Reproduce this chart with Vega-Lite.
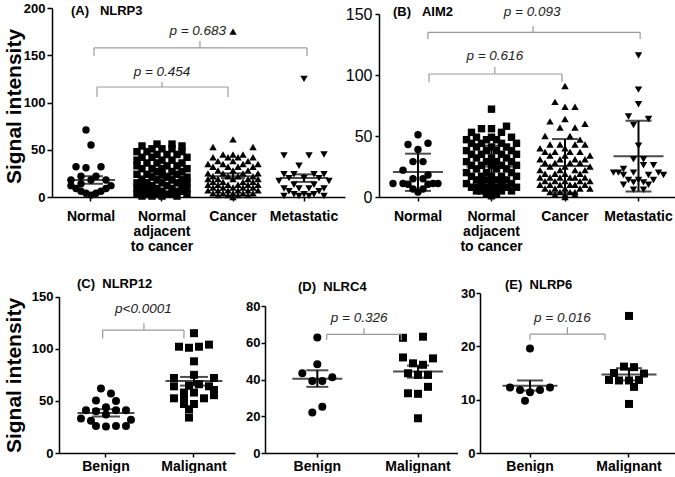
{
"$schema": "https://vega.github.io/schema/vega-lite/v6.json",
"background": "white",
"padding": {"left": 3, "top": 2, "right": 0, "bottom": 0},
"config": {
  "view": {"stroke": null},
  "font": "Liberation Sans",
  "axis": {"domainColor": "#000", "tickColor": "#000", "labelColor": "#000", "titleColor": "#000", "domainWidth": 1.5, "tickWidth": 1.5, "grid": false, "labelFont": "Liberation Sans", "titleFont": "Liberation Sans"}
},
"spacing": 17,
"vconcat": [
{"spacing": 0, "hconcat": [
{
 "width": 293, "height": 189,
 "title": {"text": "(A)\u00a0\u00a0\u00a0NLRP3", "anchor": "start", "frame": "group", "offset": -26, "dx": 19, "fontSize": 13, "fontWeight": "bold", "font": "Liberation Sans", "color": "#000", "baseline": "alphabetic"},
 "layer": [
  {"data": {"values": [
   {"g":"Normal","v":71,"s":-1},{"g":"Normal","v":55,"s":0},{"g":"Normal","v":32,"s":-3},{"g":"Normal","v":31,"s":-1},{"g":"Normal","v":32,"s":2},{"g":"Normal","v":22,"s":-2},{"g":"Normal","v":22,"s":1},{"g":"Normal","v":18,"s":-4},{"g":"Normal","v":18,"s":0},{"g":"Normal","v":18,"s":3},{"g":"Normal","v":12,"s":-4},{"g":"Normal","v":12,"s":4},{"g":"Normal","v":9,"s":-3},{"g":"Normal","v":9,"s":3},{"g":"Normal","v":6,"s":-2},{"g":"Normal","v":6,"s":2},{"g":"Normal","v":4,"s":-1},{"g":"Normal","v":4,"s":1},{"g":"Normal","v":2,"s":0},{"g":"Normal","v":14,"s":-2},
   {"g":"Normal adjacent to cancer","v":56,"s":-1},{"g":"Normal adjacent to cancer","v":56,"s":2},{"g":"Normal adjacent to cancer","v":54,"s":-4},{"g":"Normal adjacent to cancer","v":54,"s":4},{"g":"Normal adjacent to cancer","v":51,"s":-2},{"g":"Normal adjacent to cancer","v":51,"s":0},{"g":"Normal adjacent to cancer","v":51,"s":2},{"g":"Normal adjacent to cancer","v":48,"s":-5},{"g":"Normal adjacent to cancer","v":48,"s":-3},{"g":"Normal adjacent to cancer","v":48,"s":4},{"g":"Normal adjacent to cancer","v":45,"s":-1},{"g":"Normal adjacent to cancer","v":45,"s":1},{"g":"Normal adjacent to cancer","v":45,"s":3},{"g":"Normal adjacent to cancer","v":42,"s":-4},{"g":"Normal adjacent to cancer","v":42,"s":-2},{"g":"Normal adjacent to cancer","v":42,"s":5},{"g":"Normal adjacent to cancer","v":39,"s":-5},{"g":"Normal adjacent to cancer","v":39,"s":0},{"g":"Normal adjacent to cancer","v":39,"s":2},{"g":"Normal adjacent to cancer","v":36,"s":-3},{"g":"Normal adjacent to cancer","v":36,"s":-1},{"g":"Normal adjacent to cancer","v":36,"s":4},{"g":"Normal adjacent to cancer","v":33,"s":-5},{"g":"Normal adjacent to cancer","v":33,"s":1},{"g":"Normal adjacent to cancer","v":33,"s":3},{"g":"Normal adjacent to cancer","v":30,"s":-4},{"g":"Normal adjacent to cancer","v":30,"s":-2},{"g":"Normal adjacent to cancer","v":30,"s":0},{"g":"Normal adjacent to cancer","v":30,"s":5},{"g":"Normal adjacent to cancer","v":27,"s":-1},{"g":"Normal adjacent to cancer","v":27,"s":2},{"g":"Normal adjacent to cancer","v":27,"s":4},{"g":"Normal adjacent to cancer","v":24,"s":-5},{"g":"Normal adjacent to cancer","v":24,"s":-3},{"g":"Normal adjacent to cancer","v":24,"s":0},{"g":"Normal adjacent to cancer","v":24,"s":3},{"g":"Normal adjacent to cancer","v":21,"s":-2},{"g":"Normal adjacent to cancer","v":21,"s":1},{"g":"Normal adjacent to cancer","v":21,"s":5},{"g":"Normal adjacent to cancer","v":18,"s":-4},{"g":"Normal adjacent to cancer","v":18,"s":-1},{"g":"Normal adjacent to cancer","v":18,"s":2},{"g":"Normal adjacent to cancer","v":18,"s":4},{"g":"Normal adjacent to cancer","v":15,"s":-5},{"g":"Normal adjacent to cancer","v":15,"s":-3},{"g":"Normal adjacent to cancer","v":15,"s":0},{"g":"Normal adjacent to cancer","v":15,"s":3},{"g":"Normal adjacent to cancer","v":15,"s":5},{"g":"Normal adjacent to cancer","v":12,"s":-4},{"g":"Normal adjacent to cancer","v":12,"s":-2},{"g":"Normal adjacent to cancer","v":12,"s":1},{"g":"Normal adjacent to cancer","v":12,"s":4},{"g":"Normal adjacent to cancer","v":9,"s":-5},{"g":"Normal adjacent to cancer","v":9,"s":-3},{"g":"Normal adjacent to cancer","v":9,"s":-1},{"g":"Normal adjacent to cancer","v":9,"s":2},{"g":"Normal adjacent to cancer","v":9,"s":5},{"g":"Normal adjacent to cancer","v":6,"s":-4},{"g":"Normal adjacent to cancer","v":6,"s":-2},{"g":"Normal adjacent to cancer","v":6,"s":0},{"g":"Normal adjacent to cancer","v":6,"s":3},{"g":"Normal adjacent to cancer","v":6,"s":4},{"g":"Normal adjacent to cancer","v":3,"s":-5},{"g":"Normal adjacent to cancer","v":3,"s":-3},{"g":"Normal adjacent to cancer","v":3,"s":-1},{"g":"Normal adjacent to cancer","v":3,"s":1},{"g":"Normal adjacent to cancer","v":3,"s":2},{"g":"Normal adjacent to cancer","v":3,"s":5},{"g":"Normal adjacent to cancer","v":1,"s":-4},{"g":"Normal adjacent to cancer","v":1,"s":-2},{"g":"Normal adjacent to cancer","v":1,"s":0},{"g":"Normal adjacent to cancer","v":1,"s":3},
   {"g":"Cancer","v":175,"s":0},{"g":"Cancer","v":61,"s":0},{"g":"Cancer","v":53,"s":-4},{"g":"Cancer","v":53,"s":4},{"g":"Cancer","v":45,"s":-2},{"g":"Cancer","v":45,"s":0},{"g":"Cancer","v":45,"s":2},{"g":"Cancer","v":42,"s":-4},{"g":"Cancer","v":42,"s":-1},{"g":"Cancer","v":42,"s":1},{"g":"Cancer","v":42,"s":4},{"g":"Cancer","v":38,"s":-3},{"g":"Cancer","v":38,"s":0},{"g":"Cancer","v":38,"s":3},{"g":"Cancer","v":35,"s":-5},{"g":"Cancer","v":35,"s":-2},{"g":"Cancer","v":35,"s":2},{"g":"Cancer","v":35,"s":5},{"g":"Cancer","v":32,"s":-4},{"g":"Cancer","v":32,"s":-1},{"g":"Cancer","v":32,"s":1},{"g":"Cancer","v":32,"s":4},{"g":"Cancer","v":28,"s":-3},{"g":"Cancer","v":28,"s":0},{"g":"Cancer","v":28,"s":3},{"g":"Cancer","v":25,"s":-5},{"g":"Cancer","v":25,"s":-2},{"g":"Cancer","v":25,"s":2},{"g":"Cancer","v":25,"s":5},{"g":"Cancer","v":22,"s":-4},{"g":"Cancer","v":22,"s":-1},{"g":"Cancer","v":22,"s":1},{"g":"Cancer","v":22,"s":4},{"g":"Cancer","v":19,"s":-5},{"g":"Cancer","v":19,"s":-3},{"g":"Cancer","v":19,"s":0},{"g":"Cancer","v":19,"s":3},{"g":"Cancer","v":19,"s":5},{"g":"Cancer","v":16,"s":-4},{"g":"Cancer","v":16,"s":-2},{"g":"Cancer","v":16,"s":2},{"g":"Cancer","v":16,"s":4},{"g":"Cancer","v":13,"s":-5},{"g":"Cancer","v":13,"s":-3},{"g":"Cancer","v":13,"s":-1},{"g":"Cancer","v":13,"s":1},{"g":"Cancer","v":13,"s":3},{"g":"Cancer","v":13,"s":5},{"g":"Cancer","v":10,"s":-4},{"g":"Cancer","v":10,"s":-2},{"g":"Cancer","v":10,"s":0},{"g":"Cancer","v":10,"s":2},{"g":"Cancer","v":10,"s":4},{"g":"Cancer","v":7,"s":-5},{"g":"Cancer","v":7,"s":-3},{"g":"Cancer","v":7,"s":-1},{"g":"Cancer","v":7,"s":1},{"g":"Cancer","v":7,"s":3},{"g":"Cancer","v":7,"s":5},{"g":"Cancer","v":4,"s":-4},{"g":"Cancer","v":4,"s":-2},{"g":"Cancer","v":4,"s":0},{"g":"Cancer","v":4,"s":2},{"g":"Cancer","v":4,"s":4},{"g":"Cancer","v":2,"s":-3},{"g":"Cancer","v":2,"s":-1},{"g":"Cancer","v":2,"s":1},{"g":"Cancer","v":2,"s":3},{"g":"Cancer","v":0,"s":0},
   {"g":"Metastatic","v":125,"s":0},{"g":"Metastatic","v":45,"s":4},{"g":"Metastatic","v":44,"s":-4},{"g":"Metastatic","v":44,"s":1},{"g":"Metastatic","v":33,"s":-1},{"g":"Metastatic","v":24,"s":-4},{"g":"Metastatic","v":24,"s":-2},{"g":"Metastatic","v":24,"s":2},{"g":"Metastatic","v":24,"s":4},{"g":"Metastatic","v":20,"s":-3},{"g":"Metastatic","v":20,"s":0},{"g":"Metastatic","v":20,"s":3},{"g":"Metastatic","v":17,"s":-5},{"g":"Metastatic","v":17,"s":5},{"g":"Metastatic","v":13,"s":-2},{"g":"Metastatic","v":13,"s":2},{"g":"Metastatic","v":9,"s":-4},{"g":"Metastatic","v":9,"s":-1},{"g":"Metastatic","v":9,"s":1},{"g":"Metastatic","v":9,"s":4},{"g":"Metastatic","v":6,"s":-3},{"g":"Metastatic","v":6,"s":3},{"g":"Metastatic","v":3,"s":-2},{"g":"Metastatic","v":3,"s":0},{"g":"Metastatic","v":3,"s":2},{"g":"Metastatic","v":1,"s":-4},{"g":"Metastatic","v":1,"s":-1},{"g":"Metastatic","v":1,"s":1},{"g":"Metastatic","v":1,"s":4}
  ]},
   "mark": {"type": "point", "filled": true, "size": 55, "color": "#000", "opacity": 1},
   "encoding": {
    "x": {"field": "g", "type": "nominal", "sort": null, "scale": {"domain": ["Normal", "Normal adjacent to cancer", "Cancer", "Metastatic"], "paddingInner": 0.2254, "paddingOuter": 0.176, "align": 0.46},
      "axis": {"title": null, "labelAngle": 0, "labelFontSize": 14, "labelFontWeight": "bold", "tickSize": 4, "labelPadding": 8, "labelLineHeight": 15, "labelBaseline": "top", "labelExpr": "datum.value == 'Normal adjacent to cancer' ? ['Normal', 'adjacent', 'to cancer'] : datum.label"}},
    "xOffset": {"field": "s", "type": "ordinal", "scale": {"domain": [-5,-4,-3,-2,-1,0,1,2,3,4,5]}},
    "y": {"field": "v", "type": "quantitative", "scale": {"domain": [0, 200], "range": [189, 0], "nice": false},
      "axis": {"title": "Signal intensity", "titleFontSize": 21, "titleFontWeight": "bold", "titleX": -28, "titleY": 98, "values": [0, 50, 100, 150, 200], "labelFontSize": 13, "labelFontWeight": "bold", "tickSize": 5, "labelPadding": 2}},
    "shape": {"field": "g", "type": "nominal", "scale": {"domain": ["Normal", "Normal adjacent to cancer", "Cancer", "Metastatic"], "range": ["circle", "square", "triangle-up", "triangle-down"]}, "legend": null}
   }},
  {"data": {"values": [{"g":"Normal","m":18,"lo":14,"hi":22},{"g":"Normal adjacent to cancer","m":22,"lo":20,"hi":25},{"g":"Cancer","m":22,"lo":20,"hi":25},{"g":"Metastatic","m":20,"lo":16,"hi":24}]},
   "layer": [
    {"mark": {"type": "tick", "color": "#000", "size": 48, "thickness": 2}, "encoding": {"x": {"field": "g", "type": "nominal"}, "y": {"field": "m", "type": "quantitative"}}},
    {"mark": {"type": "tick", "color": "#000", "size": 24, "thickness": 2}, "encoding": {"x": {"field": "g", "type": "nominal"}, "y": {"field": "lo", "type": "quantitative"}}},
    {"mark": {"type": "tick", "color": "#000", "size": 24, "thickness": 2}, "encoding": {"x": {"field": "g", "type": "nominal"}, "y": {"field": "hi", "type": "quantitative"}}},
    {"mark": {"type": "rule", "color": "#000", "strokeWidth": 2}, "encoding": {"x": {"field": "g", "type": "nominal"}, "y": {"field": "lo", "type": "quantitative"}, "y2": {"field": "hi"}}}
   ]},
  {"data": {"values": [{}]},
   "layer": [
    {"mark": {"type": "rule", "color": "#999", "strokeWidth": 1.2}, "encoding": {"x": {"datum": "Normal", "type": "nominal", "bandPosition": 0.609}, "x2": {"datum": "Cancer", "bandPosition": 0.409}, "y": {"datum": 116.4, "type": "quantitative"}}},
    {"mark": {"type": "rule", "color": "#999", "strokeWidth": 1.2}, "encoding": {"x": {"datum": "Normal", "type": "nominal", "bandPosition": 0.609}, "y": {"datum": 116.4, "type": "quantitative"}, "y2": {"datum": 105.8}}},
    {"mark": {"type": "rule", "color": "#999", "strokeWidth": 1.2}, "encoding": {"x": {"datum": "Cancer", "type": "nominal", "bandPosition": 0.409}, "y": {"datum": 116.4, "type": "quantitative"}, "y2": {"datum": 105.8}}},
    {"mark": {"type": "rule", "color": "#999", "strokeWidth": 1.2}, "encoding": {"x": {"datum": "Normal adjacent to cancer", "type": "nominal", "bandPosition": 0.5}, "y": {"datum": 116.4, "type": "quantitative"}, "y2": {"datum": 121.7}}},
    {"mark": {"type": "text", "fontStyle": "italic", "fontSize": 13.5, "color": "#222", "baseline": "middle"}, "encoding": {"x": {"datum": "Normal adjacent to cancer", "type": "nominal", "bandPosition": 0.5}, "y": {"datum": 132.3, "type": "quantitative"}, "text": {"value": "p = 0.454"}}},
    {"mark": {"type": "rule", "color": "#999", "strokeWidth": 1.2}, "encoding": {"x": {"datum": "Normal", "type": "nominal", "bandPosition": 0.555}, "x2": {"datum": "Metastatic", "bandPosition": 0.555}, "y": {"datum": 157.7, "type": "quantitative"}}},
    {"mark": {"type": "rule", "color": "#999", "strokeWidth": 1.2}, "encoding": {"x": {"datum": "Normal", "type": "nominal", "bandPosition": 0.555}, "y": {"datum": 157.7, "type": "quantitative"}, "y2": {"datum": 149.2}}},
    {"mark": {"type": "rule", "color": "#999", "strokeWidth": 1.2}, "encoding": {"x": {"datum": "Metastatic", "type": "nominal", "bandPosition": 0.555}, "y": {"datum": 157.7, "type": "quantitative"}, "y2": {"datum": 149.2}}},
    {"mark": {"type": "rule", "color": "#999", "strokeWidth": 1.2}, "encoding": {"x": {"datum": "Normal adjacent to cancer", "type": "nominal", "bandPosition": 1.19}, "y": {"datum": 157.7, "type": "quantitative"}, "y2": {"datum": 165}}},
    {"mark": {"type": "text", "fontStyle": "italic", "fontSize": 13.5, "color": "#222", "baseline": "middle"}, "encoding": {"x": {"datum": "Normal adjacent to cancer", "type": "nominal", "bandPosition": 1.15}, "y": {"datum": 175.7, "type": "quantitative"}, "text": {"value": "p = 0.683"}}}
   ]}
 ]
},
{
 "width": 296, "height": 189,
 "title": {"text": "(B)\u00a0\u00a0\u00a0AIM2", "anchor": "start", "frame": "group", "offset": -24.8, "dx": 14, "fontSize": 13, "fontWeight": "bold", "font": "Liberation Sans", "color": "#000", "baseline": "alphabetic"},
 "layer": [
  {"data": {"values": [
   {"g":"Normal","v":51,"s":0},{"g":"Normal","v":44,"s":2},{"g":"Normal","v":43,"s":-2},{"g":"Normal","v":39,"s":0},{"g":"Normal","v":29,"s":-1},{"g":"Normal","v":29,"s":1},{"g":"Normal","v":22,"s":-3},{"g":"Normal","v":18,"s":2},{"g":"Normal","v":15,"s":-1},{"g":"Normal","v":15,"s":1},{"g":"Normal","v":11,"s":-5},{"g":"Normal","v":11,"s":-3},{"g":"Normal","v":10.5,"s":-2},{"g":"Normal","v":10.5,"s":2},{"g":"Normal","v":11,"s":3},{"g":"Normal","v":11,"s":4},{"g":"Normal","v":6.5,"s":-1},{"g":"Normal","v":6.5,"s":1},{"g":"Normal","v":4,"s":0},
   {"g":"Normal adjacent to cancer","v":72,"s":0},{"g":"Normal adjacent to cancer","v":58,"s":3},{"g":"Normal adjacent to cancer","v":56,"s":-2},{"g":"Normal adjacent to cancer","v":56,"s":0},{"g":"Normal adjacent to cancer","v":53,"s":-4},{"g":"Normal adjacent to cancer","v":53,"s":2},{"g":"Normal adjacent to cancer","v":49,"s":-3},{"g":"Normal adjacent to cancer","v":49,"s":0},{"g":"Normal adjacent to cancer","v":49,"s":4},{"g":"Normal adjacent to cancer","v":47,"s":-5},{"g":"Normal adjacent to cancer","v":47,"s":-1},{"g":"Normal adjacent to cancer","v":47,"s":1},{"g":"Normal adjacent to cancer","v":44,"s":-4},{"g":"Normal adjacent to cancer","v":44,"s":-2},{"g":"Normal adjacent to cancer","v":44,"s":2},{"g":"Normal adjacent to cancer","v":44,"s":5},{"g":"Normal adjacent to cancer","v":41,"s":-3},{"g":"Normal adjacent to cancer","v":41,"s":0},{"g":"Normal adjacent to cancer","v":41,"s":3},{"g":"Normal adjacent to cancer","v":38,"s":-5},{"g":"Normal adjacent to cancer","v":38,"s":-1},{"g":"Normal adjacent to cancer","v":38,"s":1},{"g":"Normal adjacent to cancer","v":38,"s":4},{"g":"Normal adjacent to cancer","v":35,"s":-4},{"g":"Normal adjacent to cancer","v":35,"s":-2},{"g":"Normal adjacent to cancer","v":35,"s":2},{"g":"Normal adjacent to cancer","v":35,"s":5},{"g":"Normal adjacent to cancer","v":32,"s":-3},{"g":"Normal adjacent to cancer","v":32,"s":0},{"g":"Normal adjacent to cancer","v":32,"s":3},{"g":"Normal adjacent to cancer","v":29,"s":-5},{"g":"Normal adjacent to cancer","v":29,"s":-1},{"g":"Normal adjacent to cancer","v":29,"s":1},{"g":"Normal adjacent to cancer","v":29,"s":4},{"g":"Normal adjacent to cancer","v":26,"s":-4},{"g":"Normal adjacent to cancer","v":26,"s":-2},{"g":"Normal adjacent to cancer","v":26,"s":0},{"g":"Normal adjacent to cancer","v":26,"s":2},{"g":"Normal adjacent to cancer","v":26,"s":5},{"g":"Normal adjacent to cancer","v":23,"s":-3},{"g":"Normal adjacent to cancer","v":23,"s":1},{"g":"Normal adjacent to cancer","v":23,"s":3},{"g":"Normal adjacent to cancer","v":20,"s":-5},{"g":"Normal adjacent to cancer","v":20,"s":-1},{"g":"Normal adjacent to cancer","v":20,"s":4},{"g":"Normal adjacent to cancer","v":17,"s":-4},{"g":"Normal adjacent to cancer","v":17,"s":-2},{"g":"Normal adjacent to cancer","v":17,"s":0},{"g":"Normal adjacent to cancer","v":17,"s":2},{"g":"Normal adjacent to cancer","v":17,"s":5},{"g":"Normal adjacent to cancer","v":14,"s":-3},{"g":"Normal adjacent to cancer","v":14,"s":-1},{"g":"Normal adjacent to cancer","v":14,"s":1},{"g":"Normal adjacent to cancer","v":14,"s":3},{"g":"Normal adjacent to cancer","v":11,"s":-5},{"g":"Normal adjacent to cancer","v":11,"s":-2},{"g":"Normal adjacent to cancer","v":11,"s":0},{"g":"Normal adjacent to cancer","v":11,"s":2},{"g":"Normal adjacent to cancer","v":11,"s":4},{"g":"Normal adjacent to cancer","v":8,"s":-4},{"g":"Normal adjacent to cancer","v":8,"s":-3},{"g":"Normal adjacent to cancer","v":8,"s":-1},{"g":"Normal adjacent to cancer","v":8,"s":1},{"g":"Normal adjacent to cancer","v":8,"s":3},{"g":"Normal adjacent to cancer","v":8,"s":5},{"g":"Normal adjacent to cancer","v":5,"s":-3},{"g":"Normal adjacent to cancer","v":5,"s":-2},{"g":"Normal adjacent to cancer","v":5,"s":0},{"g":"Normal adjacent to cancer","v":5,"s":2},{"g":"Normal adjacent to cancer","v":5,"s":4},{"g":"Normal adjacent to cancer","v":3,"s":-1},{"g":"Normal adjacent to cancer","v":3,"s":1},{"g":"Normal adjacent to cancer","v":1,"s":0},
   {"g":"Cancer","v":91,"s":0},{"g":"Cancer","v":78,"s":-2},{"g":"Cancer","v":74,"s":0},{"g":"Cancer","v":74,"s":2},{"g":"Cancer","v":64,"s":0},{"g":"Cancer","v":62,"s":-3},{"g":"Cancer","v":60,"s":4},{"g":"Cancer","v":57,"s":-1},{"g":"Cancer","v":57,"s":2},{"g":"Cancer","v":50,"s":-4},{"g":"Cancer","v":50,"s":1},{"g":"Cancer","v":47,"s":3},{"g":"Cancer","v":43,"s":-3},{"g":"Cancer","v":43,"s":-1},{"g":"Cancer","v":43,"s":2},{"g":"Cancer","v":43,"s":4},{"g":"Cancer","v":40,"s":-5},{"g":"Cancer","v":40,"s":0},{"g":"Cancer","v":37,"s":-4},{"g":"Cancer","v":37,"s":-2},{"g":"Cancer","v":37,"s":1},{"g":"Cancer","v":37,"s":3},{"g":"Cancer","v":34,"s":-3},{"g":"Cancer","v":34,"s":0},{"g":"Cancer","v":34,"s":5},{"g":"Cancer","v":31,"s":-5},{"g":"Cancer","v":31,"s":-1},{"g":"Cancer","v":31,"s":2},{"g":"Cancer","v":31,"s":4},{"g":"Cancer","v":28,"s":-4},{"g":"Cancer","v":28,"s":-2},{"g":"Cancer","v":28,"s":1},{"g":"Cancer","v":28,"s":3},{"g":"Cancer","v":25,"s":-3},{"g":"Cancer","v":25,"s":0},{"g":"Cancer","v":25,"s":5},{"g":"Cancer","v":22,"s":-5},{"g":"Cancer","v":22,"s":-1},{"g":"Cancer","v":22,"s":2},{"g":"Cancer","v":22,"s":4},{"g":"Cancer","v":19,"s":-4},{"g":"Cancer","v":19,"s":-2},{"g":"Cancer","v":19,"s":0},{"g":"Cancer","v":19,"s":3},{"g":"Cancer","v":16,"s":-5},{"g":"Cancer","v":16,"s":-3},{"g":"Cancer","v":16,"s":-1},{"g":"Cancer","v":16,"s":1},{"g":"Cancer","v":16,"s":2},{"g":"Cancer","v":16,"s":4},{"g":"Cancer","v":13,"s":-4},{"g":"Cancer","v":13,"s":-2},{"g":"Cancer","v":13,"s":0},{"g":"Cancer","v":13,"s":3},{"g":"Cancer","v":13,"s":5},{"g":"Cancer","v":10,"s":-5},{"g":"Cancer","v":10,"s":-3},{"g":"Cancer","v":10,"s":-1},{"g":"Cancer","v":10,"s":1},{"g":"Cancer","v":10,"s":2},{"g":"Cancer","v":10,"s":4},{"g":"Cancer","v":7,"s":-4},{"g":"Cancer","v":7,"s":-2},{"g":"Cancer","v":7,"s":0},{"g":"Cancer","v":7,"s":3},{"g":"Cancer","v":7,"s":5},{"g":"Cancer","v":4,"s":-3},{"g":"Cancer","v":4,"s":-1},{"g":"Cancer","v":4,"s":1},{"g":"Cancer","v":4,"s":2},{"g":"Cancer","v":2,"s":-2},{"g":"Cancer","v":2,"s":0},{"g":"Cancer","v":2,"s":2},{"g":"Cancer","v":0,"s":0},
   {"g":"Metastatic","v":116,"s":0},{"g":"Metastatic","v":88,"s":0},{"g":"Metastatic","v":76,"s":0},{"g":"Metastatic","v":66,"s":-2},{"g":"Metastatic","v":64,"s":2},{"g":"Metastatic","v":59,"s":-1},{"g":"Metastatic","v":42,"s":0},{"g":"Metastatic","v":31,"s":-1},{"g":"Metastatic","v":31,"s":1},{"g":"Metastatic","v":26,"s":1},{"g":"Metastatic","v":26,"s":3},{"g":"Metastatic","v":23,"s":-3},{"g":"Metastatic","v":20,"s":-5},{"g":"Metastatic","v":20,"s":-4},{"g":"Metastatic","v":20,"s":-1},{"g":"Metastatic","v":20,"s":4},{"g":"Metastatic","v":18,"s":-3},{"g":"Metastatic","v":18,"s":2},{"g":"Metastatic","v":18,"s":5},{"g":"Metastatic","v":14,"s":-2},{"g":"Metastatic","v":14,"s":0},{"g":"Metastatic","v":14,"s":3},{"g":"Metastatic","v":12,"s":-1},{"g":"Metastatic","v":12,"s":1},{"g":"Metastatic","v":10,"s":-3},{"g":"Metastatic","v":10,"s":2},{"g":"Metastatic","v":6,"s":-1},{"g":"Metastatic","v":6,"s":1}
  ]},
   "mark": {"type": "point", "filled": true, "size": 55, "color": "#000", "opacity": 1},
   "encoding": {
    "x": {"field": "g", "type": "nominal", "sort": null, "scale": {"domain": ["Normal", "Normal adjacent to cancer", "Cancer", "Metastatic"], "paddingInner": 0.2517, "paddingOuter": 0.1395, "align": 0.561},
      "axis": {"title": null, "labelAngle": 0, "labelFontSize": 14, "labelFontWeight": "bold", "tickSize": 4, "labelPadding": 8, "labelLineHeight": 15, "labelBaseline": "top", "labelExpr": "datum.value == 'Normal adjacent to cancer' ? ['Normal', 'adjacent', 'to cancer'] : datum.label"}},
    "xOffset": {"field": "s", "type": "ordinal", "scale": {"domain": [-5,-4,-3,-2,-1,0,1,2,3,4,5]}},
    "y": {"field": "v", "type": "quantitative", "scale": {"domain": [0, 150], "range": [189, 6], "nice": false},
      "axis": {"title": null, "values": [0, 50, 100, 150], "labelFontSize": 16, "labelFontWeight": "normal", "tickSize": 4, "labelPadding": 3}},
    "shape": {"field": "g", "type": "nominal", "scale": {"domain": ["Normal", "Normal adjacent to cancer", "Cancer", "Metastatic"], "range": ["circle", "square", "triangle-up", "triangle-down"]}, "legend": null}
   }},
  {"data": {"values": [{"g":"Normal","m":20.5,"lo":5,"hi":35.5},{"g":"Normal adjacent to cancer","m":25,"lo":8,"hi":42},{"g":"Cancer","m":25.5,"lo":3.5,"hi":47.5},{"g":"Metastatic","m":33.5,"lo":4.5,"hi":62.5}]},
   "layer": [
    {"mark": {"type": "tick", "color": "#000", "size": 50, "thickness": 2}, "encoding": {"x": {"field": "g", "type": "nominal"}, "y": {"field": "m", "type": "quantitative"}}},
    {"mark": {"type": "tick", "color": "#000", "size": 26, "thickness": 2}, "encoding": {"x": {"field": "g", "type": "nominal"}, "y": {"field": "lo", "type": "quantitative"}}},
    {"mark": {"type": "tick", "color": "#000", "size": 26, "thickness": 2}, "encoding": {"x": {"field": "g", "type": "nominal"}, "y": {"field": "hi", "type": "quantitative"}}},
    {"mark": {"type": "rule", "color": "#000", "strokeWidth": 2}, "encoding": {"x": {"field": "g", "type": "nominal"}, "y": {"field": "lo", "type": "quantitative"}, "y2": {"field": "hi"}}}
   ]},
  {"data": {"values": [{}]},
   "layer": [
    {"mark": {"type": "rule", "color": "#999", "strokeWidth": 1.2}, "encoding": {"x": {"datum": "Normal", "type": "nominal", "bandPosition": 0.7}, "x2": {"datum": "Cancer", "bandPosition": 0.445}, "y": {"datum": 100.8, "type": "quantitative"}}},
    {"mark": {"type": "rule", "color": "#999", "strokeWidth": 1.2}, "encoding": {"x": {"datum": "Normal", "type": "nominal", "bandPosition": 0.7}, "y": {"datum": 100.8, "type": "quantitative"}, "y2": {"datum": 94.3}}},
    {"mark": {"type": "rule", "color": "#999", "strokeWidth": 1.2}, "encoding": {"x": {"datum": "Cancer", "type": "nominal", "bandPosition": 0.445}, "y": {"datum": 100.8, "type": "quantitative"}, "y2": {"datum": 94.3}}},
    {"mark": {"type": "rule", "color": "#999", "strokeWidth": 1.2}, "encoding": {"x": {"datum": "Normal adjacent to cancer", "type": "nominal", "bandPosition": 0.56}, "y": {"datum": 100.8, "type": "quantitative"}, "y2": {"datum": 106.6}}},
    {"mark": {"type": "text", "fontStyle": "italic", "fontSize": 13.5, "color": "#222", "baseline": "middle"}, "encoding": {"x": {"datum": "Normal adjacent to cancer", "type": "nominal", "bandPosition": 0.56}, "y": {"datum": 115.6, "type": "quantitative"}, "text": {"value": "p = 0.616"}}},
    {"mark": {"type": "rule", "color": "#999", "strokeWidth": 1.2}, "encoding": {"x": {"datum": "Normal", "type": "nominal", "bandPosition": 0.68}, "x2": {"datum": "Metastatic", "bandPosition": 0.53}, "y": {"datum": 135, "type": "quantitative"}}},
    {"mark": {"type": "rule", "color": "#999", "strokeWidth": 1.2}, "encoding": {"x": {"datum": "Normal", "type": "nominal", "bandPosition": 0.68}, "y": {"datum": 135, "type": "quantitative"}, "y2": {"datum": 129.5}}},
    {"mark": {"type": "rule", "color": "#999", "strokeWidth": 1.2}, "encoding": {"x": {"datum": "Metastatic", "type": "nominal", "bandPosition": 0.53}, "y": {"datum": 135, "type": "quantitative"}, "y2": {"datum": 129.5}}},
    {"mark": {"type": "rule", "color": "#999", "strokeWidth": 1.2}, "encoding": {"x": {"datum": "Normal adjacent to cancer", "type": "nominal", "bandPosition": 1.255}, "y": {"datum": 135, "type": "quantitative"}, "y2": {"datum": 140.2}}},
    {"mark": {"type": "text", "fontStyle": "italic", "fontSize": 13.5, "color": "#222", "baseline": "middle"}, "encoding": {"x": {"datum": "Normal adjacent to cancer", "type": "nominal", "bandPosition": 1.24}, "y": {"datum": 151.9, "type": "quantitative"}, "text": {"value": "p = 0.093"}}}
   ]}
 ]
}
]},
{"spacing": 2, "hconcat": [
{
 "width": 191, "height": 183,
 "title": {"text": "(C)\u00a0\u00a0NLRP12", "anchor": "start", "frame": "group", "offset": -30.5, "dx": 25, "fontSize": 13, "fontWeight": "bold", "font": "Liberation Sans", "color": "#000", "baseline": "alphabetic"},
 "layer": [
  {"data": {"values": [
   {"g":"Benign","v":62,"s":-1},{"g":"Benign","v":57,"s":1},{"g":"Benign","v":50.5,"s":-2},{"g":"Benign","v":50,"s":2},{"g":"Benign","v":44,"s":0},{"g":"Benign","v":41,"s":-4},{"g":"Benign","v":40,"s":-2},{"g":"Benign","v":41,"s":2},{"g":"Benign","v":41,"s":4},{"g":"Benign","v":37,"s":0},{"g":"Benign","v":33,"s":-5},{"g":"Benign","v":31,"s":-3},{"g":"Benign","v":32,"s":5},{"g":"Benign","v":26,"s":-2},{"g":"Benign","v":25.5,"s":0},{"g":"Benign","v":26,"s":2},{"g":"Benign","v":26,"s":4},
   {"g":"Malignant","v":115,"s":0},{"g":"Malignant","v":102,"s":-3},{"g":"Malignant","v":101,"s":-1},{"g":"Malignant","v":102,"s":1},{"g":"Malignant","v":104,"s":3},{"g":"Malignant","v":88,"s":0},{"g":"Malignant","v":75,"s":0},{"g":"Malignant","v":72,"s":-4},{"g":"Malignant","v":72,"s":4},{"g":"Malignant","v":64,"s":-4},{"g":"Malignant","v":64.5,"s":-1},{"g":"Malignant","v":66,"s":1},{"g":"Malignant","v":64,"s":3},{"g":"Malignant","v":60.5,"s":4},{"g":"Malignant","v":58,"s":-2},{"g":"Malignant","v":58,"s":0},{"g":"Malignant","v":52.5,"s":-4},{"g":"Malignant","v":54,"s":-2},{"g":"Malignant","v":52.5,"s":2},{"g":"Malignant","v":55.5,"s":4},{"g":"Malignant","v":47,"s":-2},{"g":"Malignant","v":47,"s":0},{"g":"Malignant","v":42,"s":-1},{"g":"Malignant","v":34,"s":-1}
  ]},
   "mark": {"type": "point", "filled": true, "size": 64, "color": "#000", "opacity": 1},
   "encoding": {
    "x": {"field": "g", "type": "nominal", "sort": null, "scale": {"domain": ["Benign", "Malignant"], "range": [7, 183], "paddingInner": 0.375, "paddingOuter": 0.1875, "align": 0.59},
      "axis": {"title": null, "labelAngle": 0, "labelFontSize": 14, "labelFontWeight": "bold", "tickSize": 4, "labelPadding": 2, "labelBaseline": "top"}},
    "xOffset": {"field": "s", "type": "ordinal", "scale": {"domain": [-5,-4,-3,-2,-1,0,1,2,3,4,5]}},
    "y": {"field": "v", "type": "quantitative", "scale": {"domain": [0, 150], "range": [183, 26.7], "nice": false},
      "axis": {"title": "Signal intensity", "titleFontSize": 21, "titleFontWeight": "bold", "titleX": -35, "titleY": 105, "values": [0, 50, 100, 150], "labelFontSize": 13, "labelFontWeight": "bold", "tickSize": 4, "labelPadding": 2, "offset": -7}},
    "shape": {"field": "g", "type": "nominal", "scale": {"domain": ["Benign", "Malignant"], "range": ["circle", "square"]}, "legend": null}
   }},
  {"data": {"values": [{"g":"Benign","m":38.5,"lo":35,"hi":42},{"g":"Malignant","m":69,"lo":64.7,"hi":73}]},
   "layer": [
    {"mark": {"type": "tick", "color": "#000", "size": 57, "thickness": 2}, "encoding": {"x": {"field": "g", "type": "nominal"}, "y": {"field": "m", "type": "quantitative"}}},
    {"mark": {"type": "tick", "color": "#000", "size": 28, "thickness": 2}, "encoding": {"x": {"field": "g", "type": "nominal"}, "y": {"field": "lo", "type": "quantitative"}}},
    {"mark": {"type": "tick", "color": "#000", "size": 28, "thickness": 2}, "encoding": {"x": {"field": "g", "type": "nominal"}, "y": {"field": "hi", "type": "quantitative"}}},
    {"mark": {"type": "rule", "color": "#000", "strokeWidth": 2}, "encoding": {"x": {"field": "g", "type": "nominal"}, "y": {"field": "lo", "type": "quantitative"}, "y2": {"field": "hi"}}}
   ]},
  {"data": {"values": [{}]},
   "layer": [
    {"mark": {"type": "rule", "color": "#999", "strokeWidth": 1.2}, "encoding": {"x": {"datum": "Benign", "type": "nominal", "bandPosition": 0.44}, "x2": {"datum": "Malignant", "bandPosition": 0.318}, "y": {"datum": 118, "type": "quantitative"}}},
    {"mark": {"type": "rule", "color": "#999", "strokeWidth": 1.2}, "encoding": {"x": {"datum": "Benign", "type": "nominal", "bandPosition": 0.44}, "y": {"datum": 118, "type": "quantitative"}, "y2": {"datum": 110}}},
    {"mark": {"type": "rule", "color": "#999", "strokeWidth": 1.2}, "encoding": {"x": {"datum": "Malignant", "type": "nominal", "bandPosition": 0.318}, "y": {"datum": 118, "type": "quantitative"}, "y2": {"datum": 110}}},
    {"mark": {"type": "rule", "color": "#999", "strokeWidth": 1.2}, "encoding": {"x": {"datum": "Benign", "type": "nominal", "bandPosition": 1.19}, "y": {"datum": 118, "type": "quantitative"}, "y2": {"datum": 124.5}}},
    {"mark": {"type": "text", "fontStyle": "italic", "fontSize": 13.5, "color": "#222", "baseline": "middle"}, "encoding": {"x": {"datum": "Benign", "type": "nominal", "bandPosition": 1.18}, "y": {"datum": 138, "type": "quantitative"}, "text": {"value": "p<0.0001"}}}
   ]}
 ]
},
{
 "width": 192.5, "height": 183,
 "title": {"text": "(D)\u00a0\u00a0NLRC4", "anchor": "start", "frame": "group", "offset": -33.5, "dx": 33, "fontSize": 13, "fontWeight": "bold", "font": "Liberation Sans", "color": "#000", "baseline": "alphabetic"},
 "layer": [
  {"data": {"values": [
   {"g":"Benign","v":62.8,"s":0},{"g":"Benign","v":48.3,"s":0},{"g":"Benign","v":43.4,"s":-3},{"g":"Benign","v":39.2,"s":-1},{"g":"Benign","v":39.2,"s":1},{"g":"Benign","v":41.2,"s":3},{"g":"Benign","v":25.2,"s":1},{"g":"Benign","v":22.1,"s":-1},
   {"g":"Malignant","v":62.7,"s":-3},{"g":"Malignant","v":63.3,"s":1},{"g":"Malignant","v":52,"s":-3},{"g":"Malignant","v":51.5,"s":3},{"g":"Malignant","v":48.8,"s":-1},{"g":"Malignant","v":48,"s":1},{"g":"Malignant","v":43.4,"s":-2},{"g":"Malignant","v":42.5,"s":0},{"g":"Malignant","v":42.5,"s":2},{"g":"Malignant","v":36,"s":2},{"g":"Malignant","v":32.5,"s":-2},{"g":"Malignant","v":32.2,"s":0},{"g":"Malignant","v":18.9,"s":0}
  ]},
   "mark": {"type": "point", "filled": true, "size": 64, "color": "#000", "opacity": 1},
   "encoding": {
    "x": {"field": "g", "type": "nominal", "sort": null, "scale": {"domain": ["Benign", "Malignant"], "paddingInner": 0.4538, "paddingOuter": 0.1827, "align": 0.674},
      "axis": {"title": null, "labelAngle": 0, "labelFontSize": 14, "labelFontWeight": "bold", "tickSize": 4, "labelPadding": 2, "labelBaseline": "top"}},
    "xOffset": {"field": "s", "type": "ordinal", "scale": {"domain": [-5,-4,-3,-2,-1,0,1,2,3,4,5]}},
    "y": {"field": "v", "type": "quantitative", "scale": {"domain": [0, 80], "range": [183, 36], "nice": false},
      "axis": {"title": null, "values": [0, 20, 40, 60, 80], "labelFontSize": 13, "labelFontWeight": "bold", "tickSize": 4, "labelPadding": 1}},
    "shape": {"field": "g", "type": "nominal", "scale": {"domain": ["Benign", "Malignant"], "range": ["circle", "square"]}, "legend": null}
   }},
  {"data": {"values": [{"g":"Benign","m":40.4,"lo":36,"hi":45},{"g":"Malignant","m":44.3,"lo":41,"hi":47.6}]},
   "layer": [
    {"mark": {"type": "tick", "color": "#000", "size": 50, "thickness": 2}, "encoding": {"x": {"field": "g", "type": "nominal"}, "y": {"field": "m", "type": "quantitative"}}},
    {"mark": {"type": "tick", "color": "#000", "size": 22, "thickness": 2}, "encoding": {"x": {"field": "g", "type": "nominal"}, "y": {"field": "lo", "type": "quantitative"}}},
    {"mark": {"type": "tick", "color": "#000", "size": 22, "thickness": 2}, "encoding": {"x": {"field": "g", "type": "nominal"}, "y": {"field": "hi", "type": "quantitative"}}},
    {"mark": {"type": "rule", "color": "#000", "strokeWidth": 2}, "encoding": {"x": {"field": "g", "type": "nominal"}, "y": {"field": "lo", "type": "quantitative"}, "y2": {"field": "hi"}}}
   ]},
  {"data": {"values": [{}]},
   "layer": [
    {"mark": {"type": "rule", "color": "#999", "strokeWidth": 1.2}, "encoding": {"x": {"datum": "Benign", "type": "nominal", "bandPosition": 0.67}, "x2": {"datum": "Malignant", "bandPosition": 0.196}, "y": {"datum": 64.6, "type": "quantitative"}}},
    {"mark": {"type": "rule", "color": "#999", "strokeWidth": 1.2}, "encoding": {"x": {"datum": "Benign", "type": "nominal", "bandPosition": 0.67}, "y": {"datum": 64.6, "type": "quantitative"}, "y2": {"datum": 61.5}}},
    {"mark": {"type": "rule", "color": "#999", "strokeWidth": 1.2}, "encoding": {"x": {"datum": "Malignant", "type": "nominal", "bandPosition": 0.196}, "y": {"datum": 64.6, "type": "quantitative"}, "y2": {"datum": 61.5}}},
    {"mark": {"type": "rule", "color": "#999", "strokeWidth": 1.2}, "encoding": {"x": {"datum": "Benign", "type": "nominal", "bandPosition": 1.35}, "y": {"datum": 64.6, "type": "quantitative"}, "y2": {"datum": 67.9}}},
    {"mark": {"type": "text", "fontStyle": "italic", "fontSize": 13.5, "color": "#222", "baseline": "middle"}, "encoding": {"x": {"datum": "Benign", "type": "nominal", "bandPosition": 1.26}, "y": {"datum": 73.3, "type": "quantitative"}, "text": {"value": "p = 0.326"}}}
   ]}
 ]
},
{
 "width": 195, "height": 183,
 "title": {"text": "(E)\u00a0\u00a0NLRP6", "anchor": "start", "frame": "group", "offset": -31.5, "dx": 25, "fontSize": 13, "fontWeight": "bold", "font": "Liberation Sans", "color": "#000", "baseline": "alphabetic"},
 "layer": [
  {"data": {"values": [
   {"g":"Benign","v":19.6,"s":0},{"g":"Benign","v":12.3,"s":-4},{"g":"Benign","v":11.8,"s":-2},{"g":"Benign","v":11.4,"s":0},{"g":"Benign","v":11.8,"s":2},{"g":"Benign","v":12.3,"s":4},{"g":"Benign","v":9.8,"s":-1},
   {"g":"Malignant","v":25.7,"s":0},{"g":"Malignant","v":16.2,"s":-1},{"g":"Malignant","v":16.1,"s":1},{"g":"Malignant","v":15,"s":-3},{"g":"Malignant","v":14.9,"s":3},{"g":"Malignant","v":13.7,"s":-4},{"g":"Malignant","v":13.6,"s":-2},{"g":"Malignant","v":13.6,"s":0},{"g":"Malignant","v":13.7,"s":2},{"g":"Malignant","v":12.4,"s":1},{"g":"Malignant","v":9.2,"s":0}
  ]},
   "mark": {"type": "point", "filled": true, "size": 64, "color": "#000", "opacity": 1},
   "encoding": {
    "x": {"field": "g", "type": "nominal", "sort": null, "scale": {"domain": ["Benign", "Malignant"], "paddingInner": 0.4444, "paddingOuter": 0.2071, "align": 0.5488},
      "axis": {"title": null, "labelAngle": 0, "labelFontSize": 14, "labelFontWeight": "bold", "tickSize": 4, "labelPadding": 2, "labelBaseline": "top"}},
    "xOffset": {"field": "s", "type": "ordinal", "scale": {"domain": [-5,-4,-3,-2,-1,0,1,2,3,4,5]}},
    "y": {"field": "v", "type": "quantitative", "scale": {"domain": [0, 30], "range": [183, 23], "nice": false},
      "axis": {"title": null, "values": [0, 10, 20, 30], "labelFontSize": 13, "labelFontWeight": "bold", "tickSize": 4, "labelPadding": 1}},
    "shape": {"field": "g", "type": "nominal", "scale": {"domain": ["Benign", "Malignant"], "range": ["circle", "square"]}, "legend": null}
   }},
  {"data": {"values": [{"g":"Benign","m":12.6,"lo":11.7,"hi":13.6},{"g":"Malignant","m":14.7,"lo":13.6,"hi":15.9}]},
   "layer": [
    {"mark": {"type": "tick", "color": "#000", "size": 55, "thickness": 2}, "encoding": {"x": {"field": "g", "type": "nominal"}, "y": {"field": "m", "type": "quantitative"}}},
    {"mark": {"type": "tick", "color": "#000", "size": 26, "thickness": 2}, "encoding": {"x": {"field": "g", "type": "nominal"}, "y": {"field": "lo", "type": "quantitative"}}},
    {"mark": {"type": "tick", "color": "#000", "size": 26, "thickness": 2}, "encoding": {"x": {"field": "g", "type": "nominal"}, "y": {"field": "hi", "type": "quantitative"}}},
    {"mark": {"type": "rule", "color": "#000", "strokeWidth": 2}, "encoding": {"x": {"field": "g", "type": "nominal"}, "y": {"field": "lo", "type": "quantitative"}, "y2": {"field": "hi"}}}
   ]},
  {"data": {"values": [{}]},
   "layer": [
    {"mark": {"type": "rule", "color": "#999", "strokeWidth": 1.2}, "encoding": {"x": {"datum": "Benign", "type": "nominal", "bandPosition": 0.5}, "x2": {"datum": "Malignant", "bandPosition": 0.064}, "y": {"datum": 22.3, "type": "quantitative"}}},
    {"mark": {"type": "rule", "color": "#999", "strokeWidth": 1.2}, "encoding": {"x": {"datum": "Benign", "type": "nominal", "bandPosition": 0.5}, "y": {"datum": 22.3, "type": "quantitative"}, "y2": {"datum": 21.2}}},
    {"mark": {"type": "rule", "color": "#999", "strokeWidth": 1.2}, "encoding": {"x": {"datum": "Malignant", "type": "nominal", "bandPosition": 0.064}, "y": {"datum": 22.3, "type": "quantitative"}, "y2": {"datum": 21.2}}},
    {"mark": {"type": "rule", "color": "#999", "strokeWidth": 1.2}, "encoding": {"x": {"datum": "Benign", "type": "nominal", "bandPosition": 1.18}, "y": {"datum": 22.3, "type": "quantitative"}, "y2": {"datum": 23.6}}},
    {"mark": {"type": "text", "fontStyle": "italic", "fontSize": 13.5, "color": "#222", "baseline": "middle"}, "encoding": {"x": {"datum": "Benign", "type": "nominal", "bandPosition": 1.09}, "y": {"datum": 25.3, "type": "quantitative"}, "text": {"value": "p = 0.016"}}}
   ]}
 ]
}
]}
]
}
